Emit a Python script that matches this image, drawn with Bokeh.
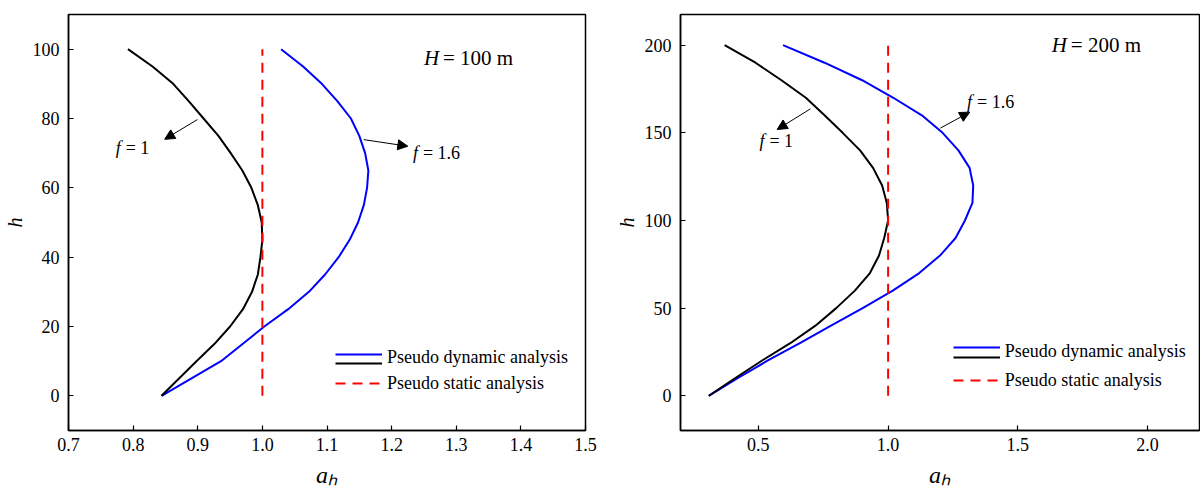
from bokeh.plotting import figure
from bokeh.layouts import row
from bokeh.models import (Range1d, FixedTicker, Legend, LegendItem, Label, Arrow,
                          NormalHead, PrintfTickFormatter)
from bokeh.embed import file_html
from bokeh.resources import INLINE

# ---------------- data: H = 100 m ----------------
h100_f1 = [0, 5, 10, 15, 20, 25, 30, 35, 40, 45, 50, 55, 60, 65, 70, 75, 80, 85, 90, 95, 100]
a100_f1 = [0.844, 0.871, 0.898, 0.926, 0.950, 0.970, 0.984, 0.993, 0.997, 1.000, 0.999,
           0.993, 0.983, 0.969, 0.951, 0.932, 0.909, 0.886, 0.862, 0.830, 0.792]
h100_f16 = [0, 10, 20, 25, 30, 35, 40, 45, 50, 55, 60, 65, 70, 75, 80, 85, 90, 95, 100]
a100_f16 = [0.844, 0.936, 1.003, 1.040, 1.072, 1.097, 1.118, 1.135, 1.148, 1.157, 1.162,
            1.164, 1.159, 1.150, 1.137, 1.116, 1.092, 1.063, 1.029]
h100_static = [0, 100]
a100_static = [1.0, 1.0]

# ---------------- data: H = 200 m ----------------
h200 = [0, 10, 20, 30, 40, 50, 60, 70, 80, 90, 100, 110, 120, 130, 140, 150, 160, 170, 180, 190, 200]
a200_f1 = [0.309, 0.410, 0.513, 0.623, 0.720, 0.800, 0.872, 0.930, 0.965, 0.985, 1.000,
           0.995, 0.977, 0.942, 0.892, 0.825, 0.755, 0.683, 0.589, 0.489, 0.370]
a200_f16 = [0.309, 0.420, 0.535, 0.660, 0.780, 0.902, 1.018, 1.120, 1.200, 1.260, 1.296,
            1.325, 1.328, 1.314, 1.271, 1.210, 1.130, 1.020, 0.900, 0.755, 0.595]
h200_static = [0, 200]
a200_static = [1.0, 1.0]

# tick values
x_ticks_100 = [0.7, 0.8, 0.9, 1.0, 1.1, 1.2, 1.3, 1.4, 1.5]
y_ticks_100 = [0, 20, 40, 60, 80, 100]
x_ticks_200 = [0.5, 1.0, 1.5, 2.0]
y_ticks_200 = [0, 50, 100, 150, 200]

# annotation texts / anchor points (data units)
title_100 = ("H", "= 100 m", 1.25, 97.5)
title_200 = ("H", "= 200 m", 1.631, 199.9)
f_labels_100 = [("= 1", 0.773, 71.4), ("= 1.6", 1.233, 70.1)]
f_labels_200 = [("= 1", 0.504, 145.6), ("= 1.6", 1.304, 167.8)]
arrows_100 = [(0.8995, 79.7, 0.8488, 74.0), (1.1569, 73.9, 1.2251, 72.0)]
arrows_200 = [(0.7008, 163.7, 0.5725, 151.9), (1.2015, 152.7, 1.3144, 161.8)]

LEG_DYN = "Pseudo dynamic analysis"
LEG_STA = "Pseudo static analysis"
X_LABEL = "a\u2095"
Y_LABEL = "h"

SERIF = "Liberation Serif"
INK = "black"


def make_panel(width, height, mb_left, mb_right, mb_top, mb_bottom, xr, yr, xt, yt,
               a_f1, h_f1, a_f16, h_f16, a_st, h_st, title, flabels, arrows, leg_pos,
               leg_x):
    p = figure(width=width, height=height, x_range=Range1d(*xr), y_range=Range1d(*yr),
               toolbar_location=None, output_backend="svg", title=None,
               min_border_left=mb_left, min_border_right=mb_right,
               min_border_top=mb_top, min_border_bottom=mb_bottom)
    p.grid.visible = False
    p.outline_line_color = INK
    p.outline_line_width = 1.5
    p.background_fill_color = "white"
    p.border_fill_color = "white"

    p.xaxis.ticker = FixedTicker(ticks=xt)
    p.xaxis.formatter = PrintfTickFormatter(format="%.1f")
    p.yaxis.ticker = FixedTicker(ticks=yt)
    for ax in (p.xaxis[0], p.yaxis[0]):
        ax.major_tick_in = 5
        ax.major_tick_out = 0
        ax.minor_tick_line_color = None
        ax.axis_line_width = 1.5
        ax.axis_line_color = INK
        ax.major_tick_line_color = INK
        ax.major_tick_line_width = 1.2
        ax.major_label_text_font = SERIF
        ax.major_label_text_font_size = "18px"
        ax.major_label_text_color = INK
        ax.axis_label_text_font = SERIF
        ax.axis_label_text_font_style = "italic"
        ax.axis_label_text_color = INK
    p.xaxis.major_label_standoff = 7
    p.yaxis.major_label_standoff = 9
    p.xaxis.axis_label = X_LABEL
    p.xaxis.axis_label_text_font_size = "24px"
    p.xaxis.axis_label_standoff = 8
    p.yaxis.axis_label = Y_LABEL
    p.yaxis.axis_label_text_font_size = "20px"
    p.yaxis.axis_label_standoff = 4

    r_f16 = p.line(a_f16, h_f16, line_color="#0000FF", line_width=2)
    r_f1 = p.line(a_f1, h_f1, line_color="black", line_width=2)
    r_st = p.line(a_st, h_st, line_color="#FF0000", line_width=2, line_dash="10 7")

    # title text "H = ... m"
    p.add_layout(Label(x=title[2], y=title[3], text=title[0], text_font=SERIF,
                       text_font_style="italic", text_font_size="21px", text_color=INK,
                       text_baseline="alphabetic", text_align="left"))
    p.add_layout(Label(x=title[2], y=title[3], x_offset=19, text=title[1], text_font=SERIF,
                       text_font_size="21px", text_color=INK,
                       text_baseline="alphabetic", text_align="left"))

    # f labels and arrows
    for txt, x, y in flabels:
        p.add_layout(Label(x=x, y=y, text="f", text_font=SERIF, text_font_style="italic",
                           text_font_size="18px", text_color=INK,
                           text_baseline="alphabetic"))
        p.add_layout(Label(x=x, y=y, x_offset=10, text=txt, text_font=SERIF,
                           text_font_size="18px", text_color=INK,
                           text_baseline="alphabetic"))
    for xs, ys, xe, ye in arrows:
        p.add_layout(Arrow(end=NormalHead(size=10, fill_color=INK, line_color=INK,
                                          line_width=1),
                           x_start=xs, y_start=ys, x_end=xe, y_end=ye,
                           line_color=INK, line_width=1))

    # legend, built from stacked single-row legends
    def leg(renderers, label, vy):
        lg = Legend(items=[LegendItem(label=label, renderers=renderers)],
                    location=(leg_x, vy), padding=0, margin=0, spacing=0,
                    glyph_width=47, glyph_height=24, label_height=24, label_standoff=5,
                    label_text_font=SERIF, label_text_font_size="18px",
                    label_text_color=INK, label_text_baseline="middle",
                    border_line_color=None, background_fill_alpha=0)
        p.add_layout(lg, "center")

    leg([r_f16], " ", leg_pos[0])
    leg([r_f1], " ", leg_pos[1])
    leg([], LEG_DYN, leg_pos[2])
    leg([r_st], LEG_STA, leg_pos[3])
    return p


p1 = make_panel(600, 493, 68, 15, 14, 63, (0.7, 1.5), (-10, 110), x_ticks_100, y_ticks_100,
                a100_f1, h100_f1, a100_f16, h100_f16, a100_static, h100_static,
                title_100, f_labels_100, arrows_100, (64, 55, 60.5, 35), 267)
p2 = make_panel(600, 493, 80, 1, 14, 63, (0.2, 2.2), (-19.8, 217.5), x_ticks_200, y_ticks_200,
                a200_f1, h200, a200_f16, h200, a200_static, h200_static,
                title_200, f_labels_200, arrows_200, (70.7, 61.3, 66.3, 38), 272.7)

layout = row(p1, p2)
open("out.html", "w").write(file_html(layout, INLINE))
